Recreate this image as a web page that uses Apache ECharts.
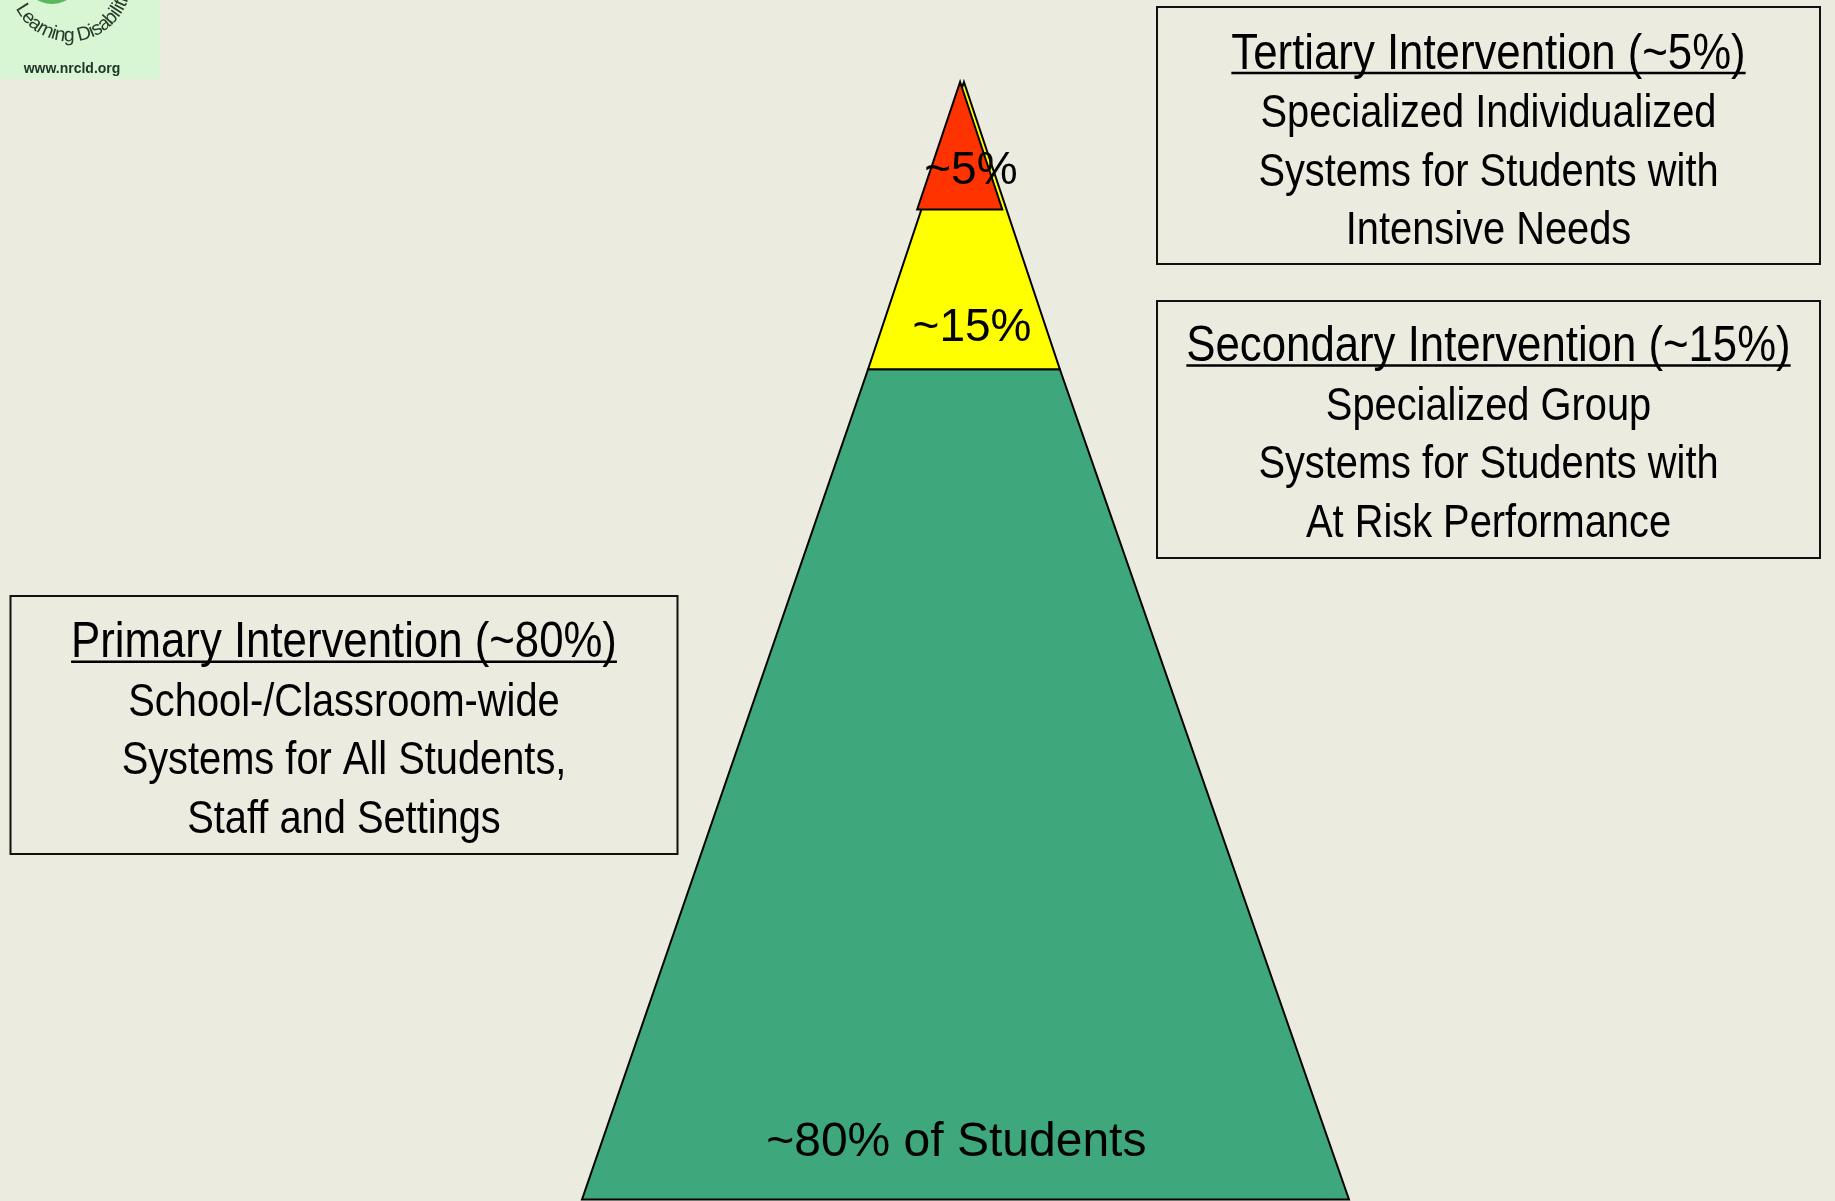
<!DOCTYPE html>
<html>
<head>
<meta charset="utf-8">
<script src="https://cdn.jsdelivr.net/npm/echarts@6/dist/echarts.min.js"></script>
<style>
html,body{margin:0;padding:0;background:#ecebdf;}
#chart{width:1835px;height:1201px;}
</style>
</head>
<body>
<div id="chart"></div>
<script>
// ---- data ----
const tierNames = ['Primary', 'Secondary', 'Tertiary'];
const tierShares = [80, 15, 5];
const tierLabels = ['~80% of Students', '~15%', '~5%'];
// tier outlines, in axis units (x: -50..50, y: 0 base .. 100 apex)
const primaryShape = [[-12.7, 74.3], [12.3, 74.3], [50, 0], [-50, 0]];
const secondaryShape = [[-0.2, 100], [12.3, 74.3], [-12.7, 74.3]];
const tertiaryShape = [[-0.7, 100], [4.8, 88.6], [-6.3, 88.6]];
const tierShapes = [primaryShape, secondaryShape, tertiaryShape];

const boxTitles = ['Tertiary Intervention (~5%)', 'Secondary Intervention (~15%)', 'Primary Intervention (~80%)'];
const boxBodies = [
  ['Specialized Individualized', 'Systems for Students with', 'Intensive Needs'],
  ['Specialized Group', 'Systems for Students with', 'At Risk Performance'],
  ['School-/Classroom-wide', 'Systems for All Students,', 'Staff and Settings']
];
const logoArcText = 'Learning Disabilities';
const logoUrl = 'www.nrcld.org';

// ---- styles / layout ----
const tierColors = ['#3ea87c', '#ffff00', '#ff3300'];
const labelAnchors = [[-1.2, 5.1], [0.85, 78.0], [0.7, 92.0]];
const labelSizes = [48, 46, 46];
const boxRects = [[1157, 7, 663, 257], [1157, 301, 663, 257], [10.5, 596, 667, 258]];
const boxTitleY = [55, 347.6, 643.7];
const boxFont = '"Liberation Sans", Arial, sans-serif';
const titleSize = 50, bodySize = 45.5, narrow = 0.875;
const lineGap = 58.5, firstGap = 59.5;

const chart = echarts.init(document.getElementById('chart'), null, {renderer: 'canvas'});

const mctx = document.createElement('canvas').getContext('2d');
function measure(text, font) { mctx.font = font; return mctx.measureText(text).width; }

const graphics = [];
// logo
graphics.push({type: 'rect', shape: {x: 0, y: 0, width: 160, height: 79}, style: {fill: '#d8f6d4'}, z: 1});
graphics.push({type: 'circle', shape: {cx: 52, cy: -25, r: 29}, style: {fill: '#5cb85c'}, z: 2});
(function () {
  const cx = 70, cy = -20, r = 66, fs = 19.5;
  const font = fs + 'px "Liberation Sans", Arial, sans-serif';
  let ang = 152 * Math.PI / 180;
  for (const ch of logoArcText) {
    const w = measure(ch, font);
    const mid = ang - (w / 2) / r;
    const x = cx + r * Math.cos(mid), y = cy + r * Math.sin(mid);
    graphics.push({
      type: 'text', x: x, y: y, rotation: -(mid - Math.PI / 2), z: 3,
      style: {text: ch, x: 0, y: 0, align: 'center', verticalAlign: 'bottom', fill: '#253c2a', font: font}
    });
    ang -= w / r;
  }
})();
graphics.push({type: 'text', x: 72, y: 69, z: 3, style: {text: logoUrl, align: 'center', verticalAlign: 'middle',
  fill: '#22352a', font: 'bold 14px "Liberation Sans", Arial, sans-serif'}});

// text boxes
boxTitles.forEach((t, i) => {
  const [bx, by, bw, bh] = boxRects[i];
  const cxm = bx + bw / 2;
  graphics.push({type: 'rect', shape: {x: bx, y: by, width: bw, height: bh}, style: {fill: 'none', stroke: '#111', lineWidth: 2}, z: 5});
  const tfont = titleSize + 'px ' + boxFont;
  const bfont = bodySize + 'px ' + boxFont;
  graphics.push({type: 'text', x: cxm, y: boxTitleY[i], scaleX: narrow, z: 5,
    style: {text: t, align: 'center', verticalAlign: 'middle', fill: '#000', font: tfont}});
  const tw = measure(t, tfont) * narrow;
  const uy = boxTitleY[i] + 18;
  graphics.push({type: 'line', shape: {x1: cxm - tw / 2, y1: uy, x2: cxm + tw / 2, y2: uy}, style: {stroke: '#000', lineWidth: 2.5}, z: 5});
  boxBodies[i].forEach((ln, j) => {
    graphics.push({type: 'text', x: cxm, y: boxTitleY[i] + firstGap + lineGap * j, scaleX: narrow, z: 5,
      style: {text: ln, align: 'center', verticalAlign: 'middle', fill: '#000', font: bfont}});
  });
});

const option = {
  backgroundColor: '#ecebdf',
  animation: false,
  grid: {left: 582, width: 767, top: 82, height: 1117.5},
  xAxis: {type: 'value', min: -50, max: 50, show: false},
  yAxis: {type: 'value', min: 0, max: 100, show: false},
  series: [{
    type: 'custom',
    coordinateSystem: 'cartesian2d',
    data: tierShares.map((s, i) => ({name: tierNames[i], value: [0, 50, i, s]})),
    renderItem: function (params, api) {
      const i = params.dataIndex;
      const pts = tierShapes[i].map(p => api.coord(p));
      const lp = api.coord(labelAnchors[i]);
      return {
        type: 'group',
        children: [
          {type: 'polygon', shape: {points: pts}, style: {fill: tierColors[i], stroke: '#000', lineWidth: 2}},
          {type: 'text', x: lp[0], y: lp[1], z2: 10, style: {text: tierLabels[i], align: 'center', verticalAlign: 'middle',
            fill: '#000', font: labelSizes[i] + 'px "Liberation Sans", Arial, sans-serif'}}
        ]
      };
    }
  }],
  graphic: graphics
};
chart.setOption(option);
</script>
</body>
</html>
